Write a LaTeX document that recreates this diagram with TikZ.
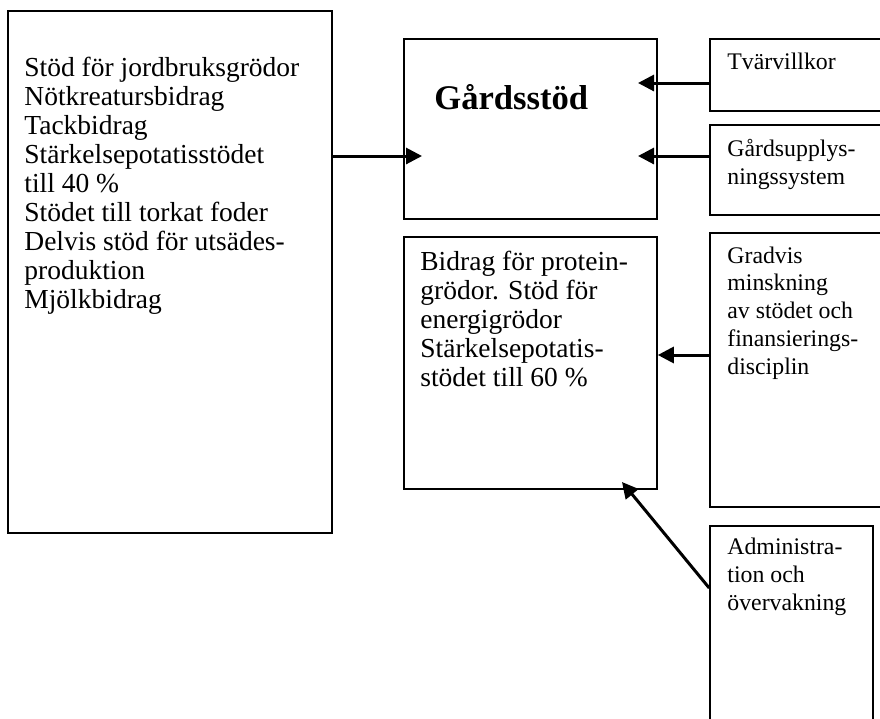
\documentclass[tikz,border=0pt]{standalone}
\usepackage{fontspec}
\setmainfont{Liberation Serif}
\usetikzlibrary{arrows.meta,fit}
\tikzset{
  box/.style={draw, line width=0.8pt, inner sep=0pt},
  arr/.style={-{Triangle[length=8pt,width=8pt]}, line width=1.5pt},
  bigtxt/.style={anchor=base west, inner sep=0pt, align=left, font=\fontsize{13.75}{14.45}\selectfont},
  smalltxt/.style={anchor=base west, inner sep=0pt, align=left, font=\fontsize{11.9}{13.85}\selectfont}
}
\begin{document}
\begin{tikzpicture}[x=0.5pt,y=-0.5pt]
  \clip (0,0) rectangle (880,719);

  \node[box, fit={(8,11) (332,533)}] (crops) {};
  \node[box, fit={(404,39) (657,219)}] (gard) {};
  \node[box, fit={(710,39) (895,111)}] (tvar) {};
  \node[box, fit={(710,125) (895,215)}] (gis) {};
  \node[box, fit={(404,237) (657,489)}] (prot) {};
  \node[box, fit={(710,233) (895,507)}] (grad) {};
  \node[box, fit={(710,526) (873,735)}] (admin) {};

  % base west sits on the last line of each text
  \node[bigtxt] (cropstxt) at (24,308) {Stöd för jordbruksgrödor\\Nötkreatursbidrag\\Tackbidrag\\Stärkelsepotatisstödet\\till 40 \%\\Stödet till torkat foder\\Delvis stöd för utsädes-\\produktion\\Mjölkbidrag};
  \node[anchor=base west, inner sep=0pt, font=\fontsize{17.3}{20}\selectfont\bfseries] (gardtxt) at (434,109) {Gårdsstöd};
  \node[smalltxt] (tvartxt) at (727,69) {Tvärvillkor};
  \node[smalltxt] (gistxt) at (727,184) {Gårdsupplys-\\ningssystem};
  \node[bigtxt] (prottxt) at (420,386) {Bidrag för protein-\\grödor. Stöd för\\energigrödor\\Stärkelsepotatis-\\stödet till 60 \%};
  \node[smalltxt] (gradtxt) at (727,374) {Gradvis\\minskning\\av stödet och\\finansierings-\\disciplin};
  \node[smalltxt] (admintxt) at (727,610) {Administra-\\tion och\\övervakning};

  \coordinate (tipA) at (422,156);
  \coordinate (tipB) at (638,83);
  \coordinate (tipC) at (638,156);
  \coordinate (tipD) at (prot.east |- 0,355);
  \coordinate (tipE) at (622,482);

  \draw[arr] (crops.east |- tipA) -- (tipA);
  \draw[arr] (tvar.west |- tipB) -- (tipB);
  \draw[arr] (gis.west |- tipC) -- (tipC);
  \draw[arr] (grad.west |- tipD) -- (tipD);
  \draw[arr] (admin.west |- 0,588) -- (tipE);
\end{tikzpicture}
\end{document}
